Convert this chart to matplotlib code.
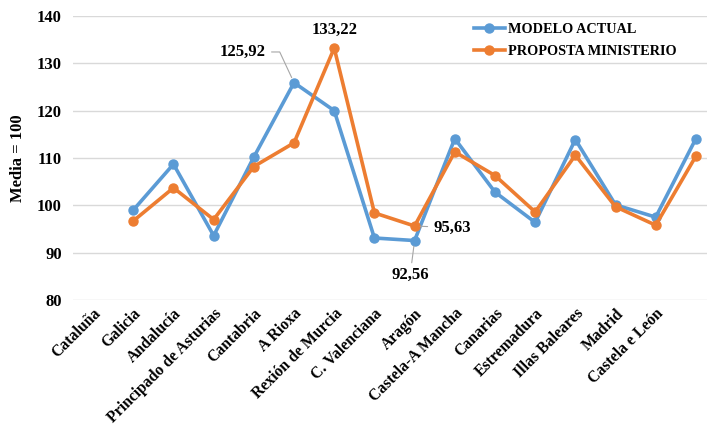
import numpy as np
import matplotlib.pyplot as plt

plt.rcParams['font.family'] = ['Liberation Serif', 'DejaVu Serif']
plt.rcParams['font.weight'] = 'bold'

# rexións (a serie vai desprazada unha posición respecto das etiquetas)
rexions = ['Cataluña', 'Galicia', 'Andalucía', 'Principado de Asturias', 'Cantabria',
           'A Rioxa', 'Rexión de Murcia', 'C. Valenciana', 'Aragón', 'Castela-A Mancha',
           'Canarias', 'Estremadura', 'Illas Baleares', 'Madrid', 'Castela e León']

modelo_actual = [np.nan, 99.0, 108.7, 93.6, 110.2, 125.92, 120.0, 93.1, 92.56,
                 114.1, 102.8, 96.4, 113.9, 100.1, 97.5, 114.1]
proposta_ministerio = [np.nan, 96.7, 103.7, 97.0, 108.2, 113.2, 133.22, 98.4, 95.63,
                       111.3, 106.3, 98.6, 110.6, 99.7, 95.8, 110.4]

azul = '#5B9BD5'
laranxa = '#ED7D31'

fig = plt.figure(figsize=(7.07, 4.29), dpi=100)
W, H = 707, 429
ax = fig.add_axes([73 / W, 1 - 300 / H, (716 - 73) / W, (300 - 16) / H])

x = np.arange(len(modelo_actual))
ax.plot(x, modelo_actual, color=azul, lw=2.6, marker='o', ms=6.5, label='MODELO ACTUAL', zorder=3)
ax.plot(x, proposta_ministerio, color=laranxa, lw=2.6, marker='o', ms=6.5,
        label='PROPOSTA MINISTERIO', zorder=3)

ax.set_xlim(-0.5, 15.5)
ax.set_ylim(80, 140)
ax.set_yticks(range(80, 141, 10))
ax.grid(axis='y', color='#d9d9d9', lw=1)
ax.set_axisbelow(True)
for s in ax.spines.values():
    s.set_visible(False)
ax.tick_params(length=0, labelsize=12)
ax.tick_params(axis='y', pad=8)

ax.set_xticks(range(len(rexions)))
ax.set_xticklabels(rexions, rotation=45, ha='right', va='top', rotation_mode='anchor', fontsize=11.3)
ax.tick_params(axis='x', pad=4)
ax.set_ylabel('Media = 100', fontsize=12, fontweight='bold', labelpad=8)

# etiquetas de valores
gris = '#a6a6a6'
ax.annotate('125,92', xy=(5, modelo_actual[5]), xytext=(3.73, 132.4), fontsize=12,
            ha='center', va='center',
            arrowprops=dict(arrowstyle='-', color=gris, lw=0.8, shrinkA=2, shrinkB=4,
                            connectionstyle='angle,angleA=0,angleB=115,rad=0'))
ax.annotate('133,22', xy=(6, proposta_ministerio[6]), xytext=(6, 137.0), fontsize=12,
            ha='center', va='center')
ax.annotate('95,63', xy=(8, proposta_ministerio[8]), xytext=(8.93, 95.3), fontsize=12,
            ha='center', va='center',
            arrowprops=dict(arrowstyle='-', color=gris, lw=0.8, shrinkA=2, shrinkB=4))
ax.annotate('92,56', xy=(8, modelo_actual[8]), xytext=(7.89, 85.3), fontsize=12,
            ha='center', va='center',
            arrowprops=dict(arrowstyle='-', color=gris, lw=0.8, shrinkA=1, shrinkB=4))

ax.legend(loc='upper left', bbox_to_anchor=(395 / 643, 0.995), frameon=False, fontsize=10.3,
          handlelength=2.2, handletextpad=0.2, labelspacing=0.65, borderaxespad=0)

fig.savefig('out.png', dpi=100)
